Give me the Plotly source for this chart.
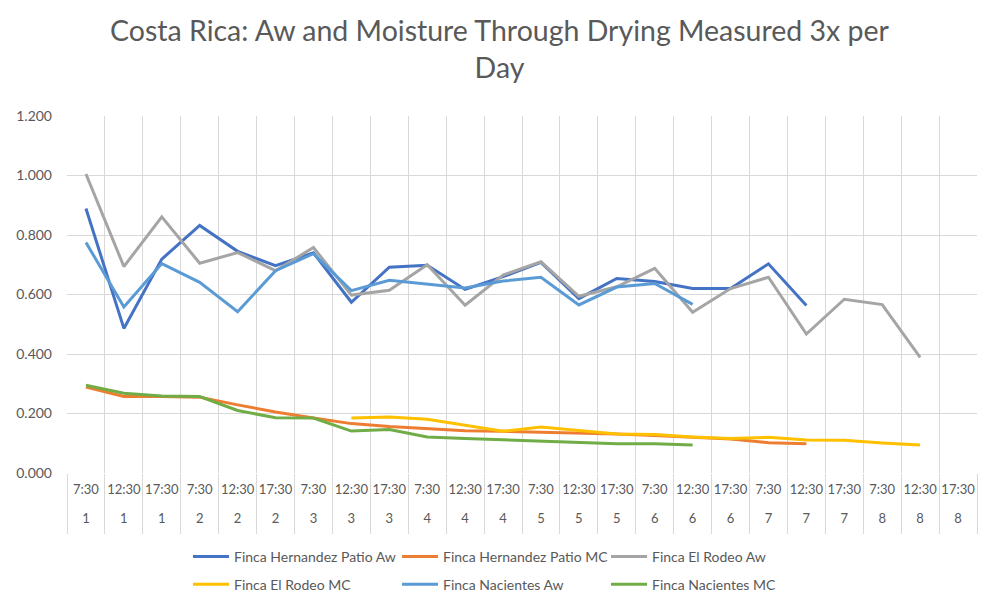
import plotly.graph_objects as go

days = ["1", "1", "1", "2", "2", "2", "3", "3", "3", "4", "4", "4",
        "5", "5", "5", "6", "6", "6", "7", "7", "7", "8", "8", "8"]
times = ["7:30", "12:30", "17:30"] * 8

hernandez_aw = [0.889, 0.486, 0.719, 0.832, 0.745, 0.697, 0.740, 0.574, 0.692, 0.698,
                0.617, 0.660, 0.708, 0.586, 0.654, 0.644, 0.620, 0.620, 0.703, 0.563,
                None, None, None, None]
hernandez_mc = [0.289, 0.257, 0.257, 0.255, 0.229, 0.205, 0.185, 0.166, 0.156, 0.149,
                0.142, 0.140, 0.137, 0.135, 0.131, 0.126, 0.120, 0.114, 0.102, 0.098,
                None, None, None, None]
rodeo_aw = [1.005, 0.694, 0.861, 0.705, 0.741, 0.680, 0.758, 0.598, 0.614, 0.700,
            0.564, 0.665, 0.710, 0.594, 0.626, 0.688, 0.540, 0.620, 0.658, 0.467,
            0.584, 0.566, 0.389, None]
rodeo_mc = [None, None, None, None, None, None, None, 0.185, 0.188, 0.181,
            0.160, 0.140, 0.155, 0.144, 0.131, 0.129, 0.121, 0.116, 0.120, 0.111,
            0.110, 0.101, 0.094, None]
nacientes_aw = [0.775, 0.558, 0.704, 0.641, 0.542, 0.680, 0.737, 0.613, 0.648, 0.634,
                0.622, 0.645, 0.658, 0.565, 0.625, 0.637, 0.567,
                None, None, None, None, None, None, None]
nacientes_mc = [0.295, 0.268, 0.259, 0.257, 0.210, 0.186, 0.185, 0.141, 0.146, 0.121,
                0.116, 0.111, 0.106, 0.102, 0.098, 0.098, 0.094,
                None, None, None, None, None, None, None]

categories = [f"Day {d} {t}" for t, d in zip(times, days)]
SPAN = "<span style='font-size:13px'>{}</span>"
ticktext = [SPAN.format(t) + "<br><br>" + SPAN.format(d) for t, d in zip(times, days)]

series = [
    ("Finca Hernandez Patio Aw", hernandez_aw, "#4472C4", "legend"),
    ("Finca Hernandez Patio MC", hernandez_mc, "#ED7D31", "legend"),
    ("Finca El Rodeo Aw", rodeo_aw, "#A5A5A5", "legend"),
    ("Finca El Rodeo MC", rodeo_mc, "#FFC000", "legend2"),
    ("Finca Nacientes Aw", nacientes_aw, "#5B9BD5", "legend2"),
    ("Finca Nacientes MC", nacientes_mc, "#70AD47", "legend2"),
]

FONT = "Lato, 'Open Sans', sans-serif"
TXT = "#595959"

fig = go.Figure()
for name, vals, color, leg in series:
    fig.add_trace(go.Scatter(
        x=categories, y=vals, name=name, mode="lines",
        line=dict(color=color, width=3), legend=leg,
        connectgaps=False,
    ))

legend_common = dict(
    orientation="h", xanchor="left", yanchor="middle",
    font=dict(family=FONT, size=14, color=TXT),
    entrywidth=158, entrywidthmode="pixels",
    bgcolor="rgba(0,0,0,0)", itemwidth=36, tracegroupgap=0,
)

fig.update_layout(
    width=993, height=600,
    margin=dict(l=59, r=24, t=108, b=135, autoexpand=False),
    paper_bgcolor="white", plot_bgcolor="white",
    font=dict(family=FONT, color=TXT),
    title=dict(
        text="Costa Rica: Aw and Moisture Through Drying Measured 3x per<br>Day",
        x=0.495, xref="container", xanchor="center",
        y=1 - 33 / 600, yanchor="top",
        font=dict(family=FONT, size=28.5, color=TXT),
    ),
    showlegend=True,
    legend=dict(x=0.133, y=-0.235, **legend_common),
    legend2=dict(x=0.133, y=-0.313, **legend_common),
    xaxis=dict(
        type="category", tickson="boundaries",
        tickmode="array", tickvals=categories, ticktext=ticktext,
        showgrid=True, gridcolor="#D9D9D9", gridwidth=1,
        ticks="outside", ticklen=60, tickcolor="#D9D9D9", tickwidth=1,
        ticklabelstandoff=9, tickangle=0,
        tickfont=dict(family=FONT, size=11, color=TXT),
        showline=False, zeroline=False,
        range=[-0.5, 23.5],
    ),
    yaxis=dict(
        range=[0, 1.2], dtick=0.2, tickformat=".3f",
        showgrid=True, gridcolor="#D9D9D9", gridwidth=1,
        zeroline=False, showline=False, ticks="",
        ticklabelstandoff=14,
        tickfont=dict(family=FONT, size=14, color=TXT),
    ),
)

fig.write_html("out.html")
